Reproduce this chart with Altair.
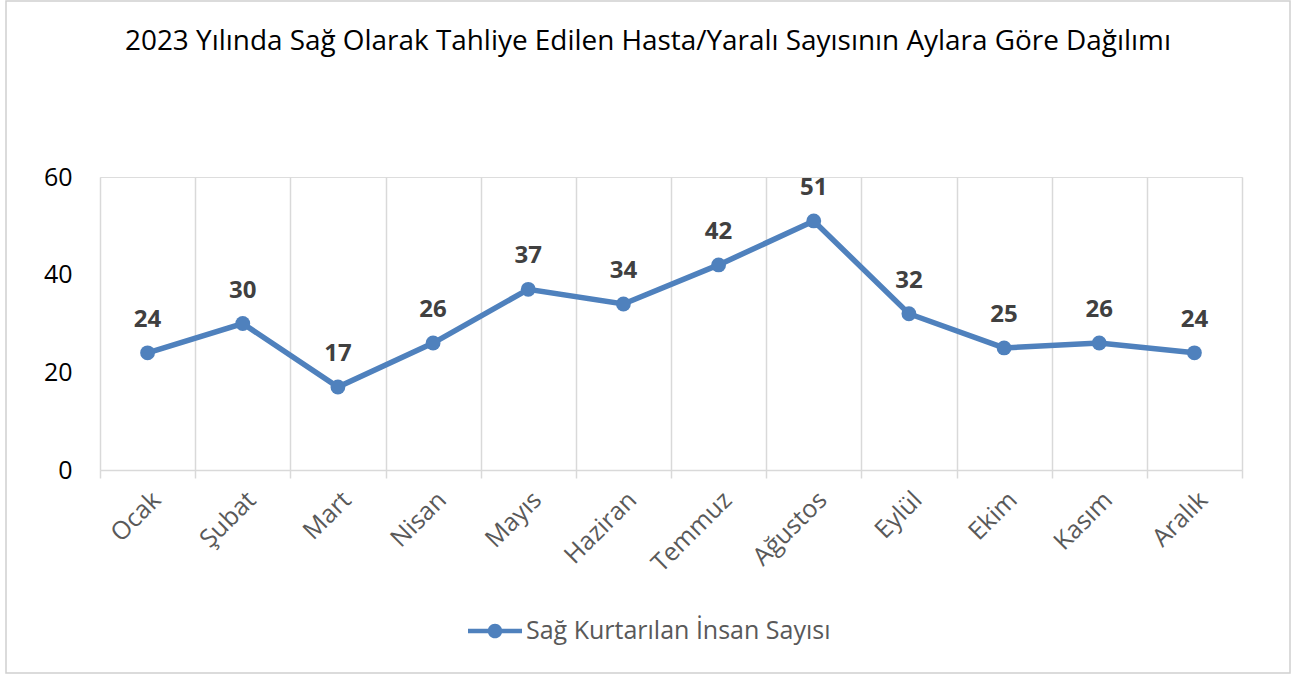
import altair as alt
import pandas as pd

months = ["Ocak", "Şubat", "Mart", "Nisan", "Mayıs", "Haziran", "Temmuz",
          "Ağustos", "Eylül", "Ekim", "Kasım", "Aralık"]
values = [24, 30, 17, 26, 37, 34, 42, 51, 32, 25, 26, 24]
series_name = "Sağ Kurtarılan İnsan Sayısı"
title_text = "2023 Yılında Sağ Olarak Tahliye Edilen Hasta/Yaralı Sayısının Aylara Göre Dağılımı"

df = pd.DataFrame({"ay": months, "deger": values, "seri": [series_name] * len(months)})

BLUE = "#4F81BD"
FONT = "Open Sans"

x_enc = alt.X("ay:N", sort=months, title=None,
              scale=alt.Scale(type="band", paddingInner=0, paddingOuter=0),
              axis=alt.Axis(labelAngle=-45, labelFontSize=25, labelColor="#595959",
                            labelFont=FONT, tickBand="extent", grid=True,
                            gridColor="#D9D9D9", gridWidth=1.5,
                            domainColor="#D9D9D9", domainWidth=1.5,
                            tickColor="#D9D9D9", tickWidth=1.5, tickSize=8,
                            labelPadding=9))
y_enc = alt.Y("deger:Q", title=None,
              scale=alt.Scale(domain=[0, 60]),
              axis=alt.Axis(values=[0, 20, 40, 60], grid=False, domain=False, ticks=False,
                            labelFontSize=25, labelColor="#000000", labelFont=FONT,
                            labelPadding=28))

base = alt.Chart(df)

frame = base.mark_rect(fill=None, stroke="#D0D0D0", strokeWidth=1.5).encode(
    x=alt.value(-94), x2=alt.value(1190), y=alt.value(-176), y2=alt.value(496)
).transform_filter(alt.datum.ay == "Ocak")

line = base.mark_line(color=BLUE, strokeWidth=5.5).encode(x=x_enc, y=y_enc)

legend_path = ("M-1,-0.085 L1,-0.085 L1,0.085 L-1,0.085 Z "
               "M-0.27,0 A0.27,0.27 0 1,1 0.27,0 A0.27,0.27 0 1,1 -0.27,0 Z")

points = base.mark_point(filled=True, size=220, opacity=1).encode(
    x=x_enc, y=y_enc,
    color=alt.Color("seri:N", scale=alt.Scale(range=[BLUE]),
                    legend=alt.Legend(title=None, orient="none", legendX=368, legendY=427,
                                      symbolType=legend_path, symbolSize=2916,
                                      symbolStrokeWidth=0, labelFontSize=25,
                                      labelColor="#595959", labelFont=FONT,
                                      labelOffset=4, labelLimit=500))
)

labels = base.mark_text(dy=-33, fontSize=24, fontWeight="bold", color="#404040",
                        font=FONT).encode(x=x_enc, y=y_enc, text="deger:Q")

chart = alt.layer(frame, line, points, labels).properties(
    width=1142, height=293,
    title=alt.TitleParams(title_text, fontSize=27.9, font=FONT, fontWeight="normal",
                          color="#000000", anchor="middle", offset=-56, dx=-23),
    autosize=alt.AutoSizeParams(type="none"),
    padding={"left": 100, "top": 177, "right": 50, "bottom": 205},
).configure_view(stroke=None).configure(background="white")

chart.save("out.html", embed_options={"renderer": "svg", "actions": False})
